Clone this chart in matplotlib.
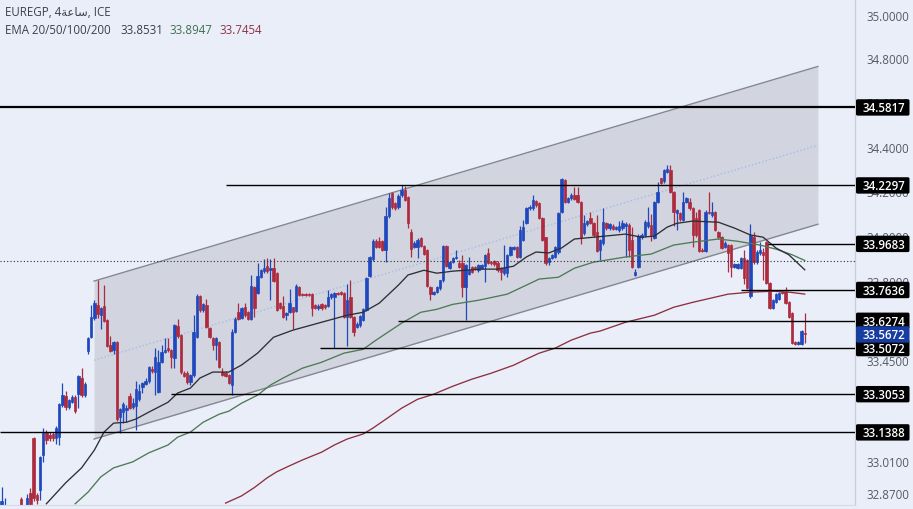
import matplotlib
matplotlib.use("Agg")
import matplotlib.pyplot as plt
from matplotlib.patches import FancyBboxPatch
from matplotlib.ticker import NullLocator
from matplotlib.transforms import IdentityTransform
import numpy as np

plt.rcParams['font.family'] = ['Open Sans', 'DejaVu Sans']

# ---------- data ----------
bars = [-1, 0, 5] + list(range(7, 251))
opens = [32.80,32.80,32.85,
 32.80,32.875,33.113,32.868,32.89,33.04,33.14,33.127,33.132,33.114,
 33.118,33.257,33.297,33.249,33.27,33.292,33.305,33.376,33.30,33.494,
 33.555,33.638,33.696,33.652,33.692,33.63,33.52,33.498,33.533,33.205,
 33.227,33.236,33.297,33.249,33.253,33.283,33.336,33.35,33.362,33.415,
 33.402,33.314,33.445,33.489,33.507,33.498,33.463,33.604,33.564,33.398,
 33.398,33.358,33.389,33.555,33.735,33.674,33.696,33.595,33.551,33.52,
 33.533,33.402,33.398,33.389,33.345,33.58,33.665,33.64,33.687,33.665,
 33.635,33.776,33.75,33.82,33.847,33.869,33.851,33.86,33.838,33.705,
 33.692,33.652,33.665,33.687,33.67,33.776,33.745,33.745,33.745,33.745,
 33.696,33.683,33.70,33.696,33.692,33.731,33.731,33.75,33.755,33.75,
 33.643,33.731,33.643,33.60,33.608,33.63,33.674,33.825,33.90,33.98,
 33.98,33.98,33.941,34.092,34.195,34.15,34.132,34.187,34.209,34.178,
 34.021,33.955,33.955,33.995,33.96,33.941,33.776,33.745,33.755,33.772,
 33.807,33.958,33.86,33.887,33.905,33.882,33.882,33.776,33.834,33.865,
 33.865,33.851,33.86,33.869,33.928,33.887,33.89,33.882,33.86,33.838,
 33.838,33.92,33.945,33.954,33.91,33.985,34.06,34.128,34.128,34.16,
 34.15,34.083,33.998,33.887,33.905,33.91,33.932,34.11,34.253,34.155,
 34.173,34.187,34.187,34.155,34.016,34.056,34.083,34.06,34.021,33.941,
 33.972,34.06,34.039,34.047,34.034,34.03,34.039,34.047,34.052,33.985,
 33.83,33.865,33.998,34.008,34.05,34.052,33.995,34.155,34.262,34.248,
 34.29,34.298,34.2,34.105,34.105,34.074,34.155,34.155,34.128,34.083,
 34.119,33.941,33.937,34.11,34.095,34.11,34.021,33.998,33.955,33.963,
 33.963,33.865,33.86,33.86,33.905,33.896,33.737,33.998,33.887,33.928,
 33.932,33.976,33.794,33.683,33.709,33.723,33.755,33.755,33.709,33.661,
 33.533,33.525,33.525,33.575]
highs = [32.903,32.855,32.86,
 32.87,32.90,33.118,32.875,33.035,33.158,33.149,33.14,33.14,33.165,
 33.265,33.355,33.32,33.285,33.30,33.30,33.39,33.419,33.36,33.556,
 33.696,33.72,33.81,33.69,33.785,33.635,33.56,33.54,33.54,33.245,
 33.27,33.26,33.31,33.29,33.362,33.35,33.36,33.375,33.43,33.43,
 33.507,33.50,33.52,33.55,33.55,33.505,33.615,33.635,33.57,33.405,
 33.405,33.395,33.655,33.745,33.74,33.705,33.723,33.60,33.555,33.555,
 33.54,33.42,33.405,33.395,33.59,33.645,33.705,33.69,33.705,33.67,
 33.83,33.78,33.885,33.855,33.90,33.905,33.90,33.905,33.842,33.71,
 33.736,33.665,33.77,33.69,33.79,33.78,33.75,33.75,33.75,33.75,
 33.70,33.70,33.705,33.70,33.763,33.75,33.755,33.755,33.76,33.755,
 33.79,33.81,33.65,33.62,33.655,33.685,33.82,33.915,33.99,33.99,
 34.0,33.985,34.132,34.195,34.2,34.155,34.19,34.23,34.225,34.182,
 34.035,33.98,33.995,34.0,33.965,33.945,33.78,33.76,33.78,33.81,
 33.965,33.965,33.89,33.91,33.94,33.896,33.92,33.88,33.91,33.87,
 33.87,33.88,33.88,33.925,33.95,33.89,33.895,33.89,33.865,33.963,
 33.925,33.96,33.96,33.96,34.05,34.075,34.135,34.14,34.187,34.165,
 34.155,34.09,34.0,33.91,33.925,33.96,34.11,34.262,34.258,34.18,
 34.195,34.222,34.222,34.16,34.095,34.075,34.11,34.065,34.096,33.99,
 34.128,34.065,34.062,34.055,34.05,34.07,34.075,34.065,34.06,34.045,
 33.855,34.012,34.015,34.075,34.132,34.10,34.16,34.245,34.265,34.305,
 34.32,34.32,34.205,34.125,34.11,34.2,34.18,34.173,34.135,34.11,
 34.125,33.95,34.12,34.2,34.155,34.115,34.025,34.002,33.98,33.97,
 33.97,33.885,33.885,33.91,33.94,33.90,34.055,34.02,33.94,33.976,
 33.95,33.98,33.80,33.725,33.75,33.755,33.76,33.776,33.715,33.665,
 33.54,33.538,33.588,33.66]
lows = [32.80,32.78,32.79,
 32.78,32.80,32.84,32.83,32.846,33.01,33.09,33.10,33.10,33.09,
 33.083,33.25,33.235,33.24,33.265,33.225,33.245,33.295,33.295,33.48,
 33.55,33.63,33.638,33.59,33.62,33.51,33.49,33.48,33.19,33.135,
 33.18,33.185,33.24,33.24,33.15,33.275,33.31,33.345,33.355,33.40,
 33.30,33.31,33.44,33.485,33.49,33.42,33.42,33.55,33.395,33.38,
 33.35,33.345,33.38,33.55,33.665,33.665,33.595,33.55,33.498,33.454,
 33.42,33.385,33.38,33.35,33.30,33.575,33.63,33.635,33.645,33.63,
 33.63,33.645,33.745,33.815,33.84,33.84,33.72,33.80,33.67,33.68,
 33.64,33.63,33.66,33.59,33.665,33.735,33.735,33.735,33.735,33.65,
 33.68,33.675,33.675,33.68,33.69,33.725,33.507,33.74,33.74,33.64,
 33.515,33.64,33.56,33.595,33.60,33.625,33.67,33.82,33.89,33.95,
 33.95,33.935,33.888,34.085,34.125,34.12,34.125,34.18,34.16,34.04,
 33.91,33.95,33.905,33.955,33.92,33.775,33.72,33.74,33.75,33.765,
 33.80,33.865,33.855,33.885,33.90,33.86,33.732,33.63,33.83,33.84,
 33.85,33.845,33.855,33.798,33.88,33.875,33.87,33.845,33.807,33.83,
 33.82,33.915,33.94,33.905,33.905,33.98,34.055,34.12,34.12,34.135,
 34.08,33.98,33.875,33.875,33.90,33.905,33.925,34.105,34.15,34.15,
 34.165,34.165,34.15,33.97,34.01,34.05,34.055,34.0,33.93,33.896,
 33.965,34.03,34.03,34.03,34.03,34.02,34.03,33.91,33.91,33.86,
 33.825,33.86,33.99,34.0,34.04,33.98,33.99,34.15,34.235,34.24,
 34.285,34.195,34.05,34.03,34.07,34.07,34.15,34.12,33.954,34.0,
 33.93,33.93,33.93,34.10,34.09,34.025,33.99,33.945,33.95,33.842,
 33.82,33.86,33.855,33.855,33.79,33.768,33.73,33.88,33.88,33.92,
 33.807,33.79,33.68,33.68,33.705,33.72,33.745,33.70,33.64,33.525,
 33.52,33.52,33.52,33.53]
closes = [32.84,32.82,32.80,
 32.855,32.83,32.854,32.846,33.032,33.136,33.105,33.114,33.114,33.158,
 33.262,33.301,33.249,33.279,33.292,33.23,33.385,33.30,33.35,33.551,
 33.643,33.705,33.656,33.683,33.625,33.515,33.494,33.533,33.197,33.24,
 33.262,33.245,33.245,33.266,33.327,33.318,33.354,33.362,33.424,33.406,
 33.467,33.445,33.489,33.498,33.498,33.467,33.608,33.56,33.402,33.385,
 33.358,33.389,33.58,33.735,33.674,33.70,33.60,33.555,33.52,33.551,
 33.424,33.389,33.385,33.354,33.58,33.635,33.635,33.683,33.652,33.635,
 33.78,33.683,33.825,33.851,33.86,33.847,33.86,33.803,33.674,33.683,
 33.643,33.66,33.705,33.665,33.78,33.74,33.74,33.74,33.74,33.683,
 33.685,33.692,33.683,33.687,33.731,33.745,33.75,33.745,33.745,33.643,
 33.718,33.643,33.58,33.612,33.648,33.678,33.816,33.91,33.98,33.955,
 33.955,33.941,34.092,34.173,34.132,34.128,34.182,34.209,34.164,34.06,
 33.945,33.972,33.985,33.96,33.924,33.78,33.745,33.755,33.776,33.807,
 33.958,33.869,33.887,33.905,33.91,33.865,33.776,33.873,33.851,33.843,
 33.856,33.873,33.873,33.92,33.885,33.882,33.878,33.851,33.843,33.86,
 33.92,33.954,33.954,33.91,34.03,34.043,34.128,34.132,34.164,34.14,
 34.083,33.985,33.882,33.905,33.92,33.954,34.105,34.258,34.155,34.173,
 34.187,34.169,34.155,33.995,34.06,34.07,34.06,34.008,33.937,33.985,
 34.065,34.039,34.056,34.034,34.043,34.047,34.06,34.056,33.941,33.865,
 33.843,34.003,34.008,34.065,34.065,34.008,34.155,34.2,34.24,34.298,
 34.302,34.2,34.11,34.119,34.078,34.155,34.173,34.128,34.008,34.008,
 33.937,33.937,34.11,34.105,34.11,34.03,33.998,33.95,33.972,33.928,
 33.865,33.878,33.878,33.905,33.816,33.772,34.008,33.887,33.932,33.941,
 33.92,33.794,33.683,33.718,33.745,33.75,33.75,33.705,33.643,33.529,
 33.525,33.533,33.582,33.5672]

ema20_bar = [13,19,24,28,31,34,38,41,45,51,54,58,61,65,70,74,79,84,90,99,107,112,117,123,126,131,135,140,149,154,159,163,166,170,174,178,184,194,199,203,207,210,215,223,228,233,237,241,245,250]
ema20_val = [32.83,32.92,32.985,33.062,33.14,33.179,33.183,33.197,33.227,33.27,33.31,33.332,33.376,33.402,33.402,33.433,33.485,33.555,33.586,33.621,33.652,33.665,33.705,33.785,33.83,33.851,33.838,33.847,33.856,33.856,33.869,33.91,33.932,33.928,33.95,33.99,33.998,34.012,33.998,34.003,34.043,34.06,34.07,34.065,34.039,34.008,33.998,33.95,33.92,33.8531]
ema50_bar = [22,26,30,34,40,45,51,54,58,62,67,70,74,79,83,87,93,99,106,112,116,124,130,135,140,148,157,163,167,173,178,184,194,202,209,215,223,229,236,241,246,250]
ema50_val = [32.83,32.88,32.946,32.985,33.011,33.05,33.084,33.118,33.14,33.183,33.218,33.231,33.266,33.301,33.345,33.376,33.419,33.445,33.485,33.502,33.542,33.617,33.665,33.678,33.70,33.718,33.745,33.785,33.812,33.82,33.86,33.887,33.91,33.923,33.963,33.976,33.99,33.98,33.963,33.945,33.92,33.8947]
ema200_bar = [69,74,78,82,85,89,93,99,103,107,112,115,120,124,129,134,140,146,152,159,163,167,172,177,183,186,194,203,209,215,226,233,240,245,250]
ema200_val = [32.833,32.864,32.90,32.942,32.968,32.994,33.019,33.053,33.084,33.11,33.132,33.157,33.205,33.244,33.283,33.305,33.34,33.371,33.397,33.432,33.459,33.485,33.507,33.542,33.573,33.582,33.621,33.652,33.687,33.709,33.745,33.754,33.758,33.754,33.7454]

channel_bar = [27.9, 254.1]
channel_top = [33.803, 34.768]
channel_mid = [33.454, 34.41]
channel_low = [33.11, 34.056]

level_vals = [34.5817, 34.2297, 33.9683, 33.7636, 33.6274, 33.5072, 33.3053, 33.1388]
level_from = [-1.5, 69, 238.5, 230, 123, 98.5, 52, -1.5]
level_lw = [1.6, 1.0, 1.0, 1.0, 1.0, 1.0, 1.0, 1.0]
dotted_level = 33.892
last_price = 33.5672

tick_vals = [35.0, 34.8, 34.6, 34.4, 34.2, 34.0, 33.8, 33.45, 33.01, 32.87]
tick_labels = ["35.0000", "34.8000", "34.6000", "34.4000", "34.2000", "34.0000", "33.8000", "33.4500", "33.0100", "32.8700"]

title_line = "EUREGP, 4\ufe94\ufecb\ufe8e\ufeb3, ICE"
ema_name = "EMA 20/50/100/200"
ema_vals = ["33.8531", "33.8947", "33.7454"]

# ---------- style ----------
BG = "#e9eef9"
BLUE = "#1f48bd"
RED = "#ad2b3e"
W, H = 913, 509
fig = plt.figure(figsize=(W / 100, H / 100), dpi=100, facecolor=BG)
ax = fig.add_axes([0, 4 / H, 855 / W, 505 / H], facecolor=BG)
ax.set_yscale('log')
ax.set_ylim(32.8247, 35.0724)
ax.set_xlim(-1.5, 265.7)
ax.yaxis.set_minor_locator(NullLocator())
ax.set_xticks([])
ax.yaxis.tick_right()
ax.set_yticks(tick_vals, tick_labels)
ax.tick_params(axis='y', length=0, pad=8, labelsize=8.3, labelcolor="#555a66")
for s in ('top', 'left'):
    ax.spines[s].set_visible(False)
ax.spines['right'].set_color("#c8ced9")
ax.spines['bottom'].set_color("#d5dbe6")
ax.spines['right'].set_linewidth(0.9)

# channel
ax.fill_between(channel_bar, channel_low, channel_top, color="#d2d5df", lw=0, zorder=1)
ax.plot(channel_bar, channel_top, color="#85888f", lw=1.0, zorder=1.2)
ax.plot(channel_bar, channel_low, color="#85888f", lw=1.0, zorder=1.2)
ax.plot(channel_bar, channel_mid, color="#a6bbe6", lw=1.0, ls=(0, (1, 1.6)), zorder=1.2)

# candles
b = np.array(bars, float)
o, h, l, c = map(np.array, (opens, highs, lows, closes))
up = c >= o
cols = np.where(up, BLUE, RED)
ax.vlines(b, l, h, colors=cols, lw=0.9, zorder=2)
ax.bar(b, np.abs(c - o), bottom=np.minimum(o, c), width=0.72, color=cols,
       edgecolor=cols, linewidth=0.5, zorder=2.1)

# EMAs
ax.plot(ema200_bar, ema200_val, color="#8e2f40", lw=0.95, zorder=3)
ax.plot(ema50_bar, ema50_val, color="#4d7a55", lw=0.95, zorder=3)
ax.plot(ema20_bar, ema20_val, color="#2c2f36", lw=0.95, zorder=3)

# levels
ax.axhline(dotted_level, color="#2a2d33", lw=0.8, ls=(0, (1, 2)), zorder=3)
for v, f, w in zip(level_vals, level_from, level_lw):
    ax.hlines(v, f, 265.7, color="black", lw=w, zorder=3.5)

# price tags
fig.canvas.draw()
def tag(val, fc, z):
    y = ax.transData.transform((0, val))[1]
    fig.add_artist(FancyBboxPatch((856, y - 8.2), 53.5, 16.4,
                                  boxstyle="round,pad=0,rounding_size=1.6",
                                  fc=fc, ec=fc, lw=0, transform=IdentityTransform(), zorder=z))
    fig.text(863 / W, y / H, f"{val:.4f}", color="white", fontsize=8.3, fontweight='semibold',
             va='center_baseline', ha='left', zorder=z + 0.1)

for v in level_vals:
    tag(v, "black", 5)
tag(last_price, "#183da0", 6)

# header
fig.text(5 / W, 1 - 13 / H, title_line, fontsize=8.3, color="#3c404b", va='center')
fig.text(5 / W, 1 - 30 / H, ema_name, fontsize=8.3, color="#3c404b", va='center')
for x, s, col in zip((120, 169, 219), ema_vals, ("#3a3e49", "#3f6f4c", "#8e3346")):
    fig.text(x / W, 1 - 30 / H, s, fontsize=8.3, color=col, va='center')

fig.savefig("out.png", dpi=100, facecolor=BG)
